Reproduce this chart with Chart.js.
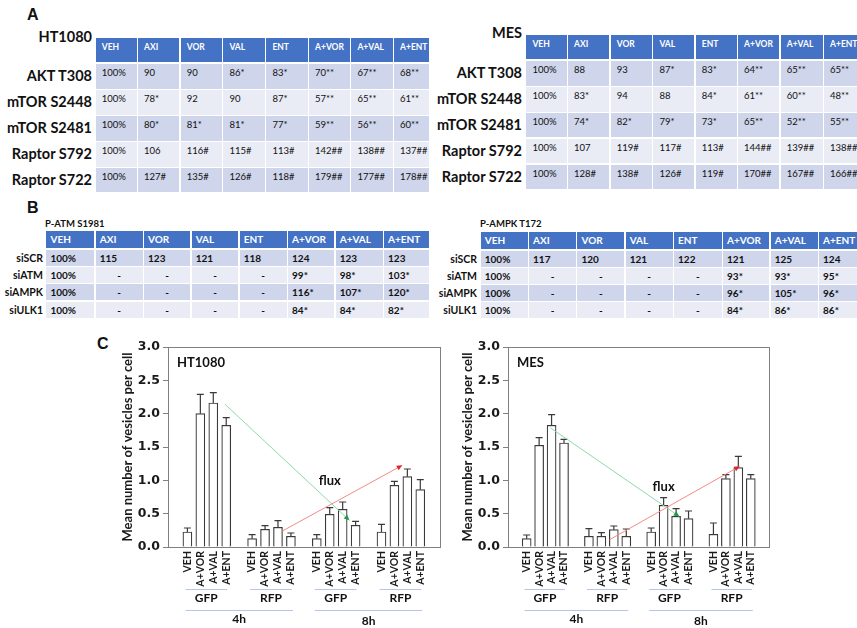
<!DOCTYPE html>
<html lang="en">
<head>
<meta charset="UTF-8">
<title>Vesicles per cell</title>
<script src="https://cdn.jsdelivr.net/npm/chart.js"></script>
<style>
  body { margin: 0; background: #fff; }
  #page { position: relative; width: 857px; height: 628px; overflow: hidden; font-family: Lato, "Open Sans", sans-serif; color: #111; }
  .abs { position: absolute; white-space: nowrap; box-sizing: border-box; }
  .hd { background: #4472c4; color: #fff; }
  .dk { background: #cfd5ea; }
  .lt { background: #e9ebf5; }
  .panel { font: bold 16px "Liberation Sans", Arial, sans-serif; line-height: 16px; }
  canvas { position: absolute; }
</style>
</head>
<body>
<div id="page">
  <div class="abs panel" style="left:27px;top:7px">A</div>
  <div class="abs panel" style="left:27px;top:200px">B</div>
  <div class="abs panel" style="left:97px;top:336px">C</div>
  <canvas id="chartHT" width="350" height="298" style="left:100px;top:330px"></canvas>
  <canvas id="chartMES" width="340" height="298" style="left:440px;top:330px"></canvas>
</div>
<script>
  // ---- table data ----
  const treatments = ['VEH', 'AXI', 'VOR', 'VAL', 'ENT', 'A+VOR', 'A+VAL', 'A+ENT'];
  const siteLabels = ['AKT T308', 'mTOR S2448', 'mTOR S2481', 'Raptor S792', 'Raptor S722'];
  const ht1080Table = [
    ['100%', '90', '90', '86*', '83*', '70**', '67**', '68**'],
    ['100%', '78*', '92', '90', '87*', '57**', '65**', '61**'],
    ['100%', '80*', '81*', '81*', '77*', '59**', '56**', '60**'],
    ['100%', '106', '116#', '115#', '113#', '142##', '138##', '137##'],
    ['100%', '127#', '135#', '126#', '118#', '179##', '177##', '178##']
  ];
  const mesTable = [
    ['100%', '88', '93', '87*', '83*', '64**', '65**', '65**'],
    ['100%', '83*', '94', '88', '84*', '61**', '60**', '48**'],
    ['100%', '74*', '82*', '79*', '73*', '65**', '52**', '55**'],
    ['100%', '107', '119#', '117#', '113#', '144##', '139##', '138##'],
    ['100%', '128#', '138#', '126#', '119#', '170##', '167##', '166##']
  ];
  const sirnaLabels = ['siSCR', 'siATM', 'siAMPK', 'siULK1'];
  const atmTable = [
    ['100%', '115', '123', '121', '118', '124', '123', '123'],
    ['100%', '-', '-', '-', '-', '99*', '98*', '103*'],
    ['100%', '-', '-', '-', '-', '116*', '107*', '120*'],
    ['100%', '-', '-', '-', '-', '84*', '84*', '82*']
  ];
  const ampkTable = [
    ['100%', '117', '120', '121', '122', '121', '125', '124'],
    ['100%', '-', '-', '-', '-', '93*', '93*', '95*'],
    ['100%', '-', '-', '-', '-', '96*', '105*', '96*'],
    ['100%', '-', '-', '-', '-', '84*', '86*', '86*']
  ];

  // ---- chart data ----
  const barNames = ['VEH', 'A+VOR', 'A+VAL', 'A+ENT'];
  const reporterNames = ['GFP', 'RFP', 'GFP', 'RFP'];
  const timeNames = ['4h', '8h'];
  const ht1080Mean = [0.225, 2.00, 2.16, 1.825, 0.125, 0.265, 0.295, 0.16, 0.125, 0.49, 0.565, 0.325, 0.225, 0.925, 1.055, 0.86];
  const ht1080Sem  = [0.06, 0.29, 0.155, 0.115, 0.06, 0.055, 0.10, 0.05, 0.06, 0.10, 0.11, 0.06, 0.115, 0.06, 0.115, 0.15];
  const mesMean = [0.125, 1.525, 1.825, 1.56, 0.16, 0.16, 0.26, 0.16, 0.225, 0.625, 0.46, 0.425, 0.19, 1.025, 1.19, 1.025];
  const mesSem  = [0.055, 0.115, 0.16, 0.055, 0.115, 0.055, 0.055, 0.11, 0.06, 0.115, 0.115, 0.115, 0.17, 0.06, 0.17, 0.06];
  // flux arrows: [category index, value]
  const ht1080Flux = { green: [[3.91, 2.14], [13.52, 0.40]], red: [[8.34, 0.24], [17.6, 1.225]], text: [12.0, 1.0] };
  const mesFlux = { green: [[2.89, 1.79], [13.25, 0.46]], red: [[7.66, 0.11], [18.1, 1.21]], text: [12.0, 0.91] };

  const page = document.getElementById('page');

  function el(cls, style, text) {
    const d = document.createElement('div');
    d.className = 'abs ' + cls;
    d.style.cssText = style;
    d.textContent = text;
    page.appendChild(d);
    return d;
  }

  // tables
  function drawTable(t) {
    const e = t.edges;
    treatments.forEach((h, i) => {
      if (i >= e.length - 1) return;
      el('hd', `left:${e[i] + 0.75}px;top:${t.headTop}px;width:${e[i + 1] - e[i] - 1.5}px;height:${t.headH}px;` + t.headStyle, h);
    });
    t.rows.forEach((row, r) => {
      const top = t.rowTops[r];
      el('', `left:${t.labelRight - 200}px;width:200px;text-align:right;top:${top}px;height:${t.rowH}px;line-height:${t.rowH}px;` + t.labelStyle, t.labels[r]);
      row.forEach((v, i) => {
        const centre = v === '-' ? 'text-align:center;padding-left:0;' : '';
        el(r % 2 ? 'lt' : 'dk', `left:${e[i] + 0.75}px;top:${top}px;width:${e[i + 1] - e[i] - 1.5}px;height:${t.rowH}px;` + t.cellStyle + centre, v);
      });
    });
  }

  const aHead = 'font-size:8.5px;font-weight:bold;padding-left:6px;line-height:18px;';
  const aCell = 'font-size:9.5px;padding-left:6px;line-height:18px;';
  const aLabel = 'font-size:14.5px;font-weight:bold;';
  drawTable({ edges: [95, 137.3, 180, 222.7, 265.7, 308.3, 350.7, 393.3, 430], headTop: 37.7, headH: 24.6,
    rowTops: [64, 90, 116, 142, 167.7], rowH: 24.8, rows: ht1080Table, labels: siteLabels, labelRight: 92,
    headStyle: aHead, cellStyle: aCell, labelStyle: aLabel });
  drawTable({ edges: [525.7, 567.3, 610, 652.7, 695, 737.3, 780, 823.3, 866], headTop: 35, headH: 24.3,
    rowTops: [61, 87, 112.7, 138.5, 164.5], rowH: 24.6, rows: mesTable, labels: siteLabels, labelRight: 522,
    headStyle: aHead, cellStyle: aCell, labelStyle: aLabel });
  el('', 'left:0;width:92px;text-align:right;top:29px;font-size:14.5px;font-weight:bold;line-height:16px;', 'HT1080');
  el('', 'left:430px;width:92px;text-align:right;top:25px;font-size:14.5px;font-weight:bold;line-height:16px;', 'MES');

  const bHead = 'font-size:10px;font-weight:bold;padding-left:4px;line-height:17px;';
  const bCell = 'font-size:10px;font-weight:bold;padding-left:4px;line-height:16.5px;';
  const bLabel = 'font-size:10.5px;font-weight:bold;';
  drawTable({ edges: [45.7, 95, 143.3, 191, 239, 287.3, 335, 383.3, 430], headTop: 231, headH: 17.3,
    rowTops: [250, 267, 284, 301.5], rowH: 16.3, rows: atmTable, labels: sirnaLabels, labelRight: 43,
    headStyle: bHead, cellStyle: bCell, labelStyle: bLabel });
  drawTable({ edges: [480, 528.3, 576.7, 625, 673.3, 722.3, 770, 818.3, 866], headTop: 231.7, headH: 17.6,
    rowTops: [250.7, 267.7, 284.5, 301.7], rowH: 16.5, rows: ampkTable, labels: sirnaLabels, labelRight: 477,
    headStyle: bHead, cellStyle: bCell, labelStyle: bLabel });
  el('', 'left:45px;top:217px;font-size:9.5px;font-weight:bold;line-height:14px;', 'P-ATM S1981');
  el('', 'left:480px;top:217px;font-size:9.5px;font-weight:bold;line-height:14px;', 'P-AMPK T172');

  // ---- charts ----
  function slotLabels() {
    const out = [''];
    reporterNames.forEach(() => out.push(...barNames, ''));
    return out;
  }
  function padded(arr) {
    const out = [null];
    reporterNames.forEach((r, g) => out.push(...arr.slice(g * 4, g * 4 + 4), null));
    return out;
  }

  const chartPlugin = {
    id: 'extras',
    afterDatasetsDraw(chart) {
      const { ctx, chartArea: a, scales: { x, y } } = chart;
      const ds = chart.data.datasets[0];
      const meta = chart.getDatasetMeta(0);
      ctx.save();
      // error bars
      ctx.strokeStyle = '#3a3a3a';
      ctx.lineWidth = 1.2;
      meta.data.forEach((bar, i) => {
        const m = ds.data[i];
        if (m == null) return;
        const top = y.getPixelForValue(m + ds.sem[i]);
        ctx.beginPath();
        ctx.moveTo(bar.x, bar.y);
        ctx.lineTo(bar.x, top);
        ctx.moveTo(bar.x - 3.5, top);
        ctx.lineTo(bar.x + 3.5, top);
        ctx.stroke();
      });
      // frame
      ctx.strokeStyle = '#808080';
      ctx.lineWidth = 1;
      ctx.strokeRect(Math.round(a.left) + 0.5, Math.round(a.top) + 0.5, Math.round(a.width), Math.round(a.height));
      // flux arrows
      const f = ds.flux;
      const arrow = (pts, line, head) => {
        const x1 = x.getPixelForValue(pts[0][0]), y1 = y.getPixelForValue(pts[0][1]);
        const x2 = x.getPixelForValue(pts[1][0]), y2 = y.getPixelForValue(pts[1][1]);
        ctx.strokeStyle = line;
        ctx.lineWidth = 1;
        ctx.beginPath();
        ctx.moveTo(x1, y1);
        ctx.lineTo(x2, y2);
        ctx.stroke();
        const ang = Math.atan2(y2 - y1, x2 - x1);
        ctx.fillStyle = head;
        ctx.beginPath();
        ctx.moveTo(x2, y2);
        ctx.lineTo(x2 - 6 * Math.cos(ang - 0.45), y2 - 6 * Math.sin(ang - 0.45));
        ctx.lineTo(x2 - 6 * Math.cos(ang + 0.45), y2 - 6 * Math.sin(ang + 0.45));
        ctx.closePath();
        ctx.fill();
      };
      arrow(f.green, '#8fd9aa', '#1e9a48');
      arrow(f.red, '#f28b86', '#e3242b');
      ctx.fillStyle = '#111';
      ctx.textAlign = 'center';
      ctx.textBaseline = 'middle';
      ctx.font = 'bold 13px Lato, sans-serif';
      ctx.fillText('flux', x.getPixelForValue(f.text[0]), y.getPixelForValue(f.text[1]));
      ctx.textAlign = 'left';
      ctx.fillText(ds.cellLine, a.left + 9, a.top + 16);
      // group labels under the axis
      const px = i => x.getPixelForValue(i);
      ctx.font = 'bold 12px Lato, sans-serif';
      ctx.textAlign = 'center';
      const hline = (x1, x2, yy) => {
        ctx.strokeStyle = '#b4c7e7';
        ctx.lineWidth = 1;
        ctx.beginPath();
        ctx.moveTo(x1, yy + 0.5);
        ctx.lineTo(x2, yy + 0.5);
        ctx.stroke();
      };
      reporterNames.forEach((r, g) => {
        const x1 = px(1 + g * 5) - 2, x2 = px(4 + g * 5) + 1;
        hline(x1, x2, a.bottom + 42);
        ctx.fillText(r, (x1 + x2) / 2, a.bottom + 51);
      });
      timeNames.forEach((t, k) => {
        const x1 = px(1 + k * 10) - 2, x2 = px(9 + k * 10) + 2;
        hline(x1, x2, a.bottom + 63);
        ctx.fillText(t, (x1 + x2) / 2, a.bottom + 72 + k * 2);
      });
      ctx.restore();
    }
  };

  function makeChart(id, cellLine, mean, sem, flux, padRight) {
    new Chart(document.getElementById(id), {
      type: 'bar',
      data: {
        labels: slotLabels(),
        datasets: [{
          data: padded(mean),
          sem: padded(sem),
          flux: flux,
          cellLine: cellLine,
          backgroundColor: '#ffffff',
          borderColor: '#3a3a3a',
          borderWidth: 1.2,
          barThickness: 9
        }]
      },
      options: {
        responsive: false,
        animation: false,
        devicePixelRatio: 1,
        layout: { padding: { top: 17, right: padRight, left: 0, bottom: 0 } },
        plugins: { legend: { display: false }, tooltip: { enabled: false } },
        scales: {
          x: {
            grid: { display: false, drawTicks: false },
            border: { display: false },
            ticks: {
              autoSkip: false, minRotation: 90, maxRotation: 90, padding: 4,
              color: '#1a1a1a', font: { family: 'Lato', weight: 'bold', size: 10.5 }
            },
            afterFit: s => { s.height = 81; }
          },
          y: {
            min: 0, max: 3,
            grid: { drawOnChartArea: false, drawTicks: true, tickLength: 5, color: '#808080' },
            border: { display: true, color: '#808080' },
            ticks: {
              stepSize: 0.5, padding: 3, color: '#1a1a1a',
              font: { family: 'DejaVu Sans', weight: 'bold', size: 12.5 },
              callback: v => v.toFixed(1)
            },
            title: {
              display: true, text: 'Mean number of vesicles per cell', color: '#1a1a1a',
              font: { family: 'Lato', weight: 'bold', size: 13 }, padding: { top: 20, bottom: 0 }
            },
            afterFit: s => { s.width = 68; }
          }
        }
      },
      plugins: [chartPlugin]
    });
  }

  makeChart('chartHT', 'HT1080', ht1080Mean, ht1080Sem, ht1080Flux, 7);
  makeChart('chartMES', 'MES', mesMean, mesSem, mesFlux, 7);
</script>
</body>
</html>
